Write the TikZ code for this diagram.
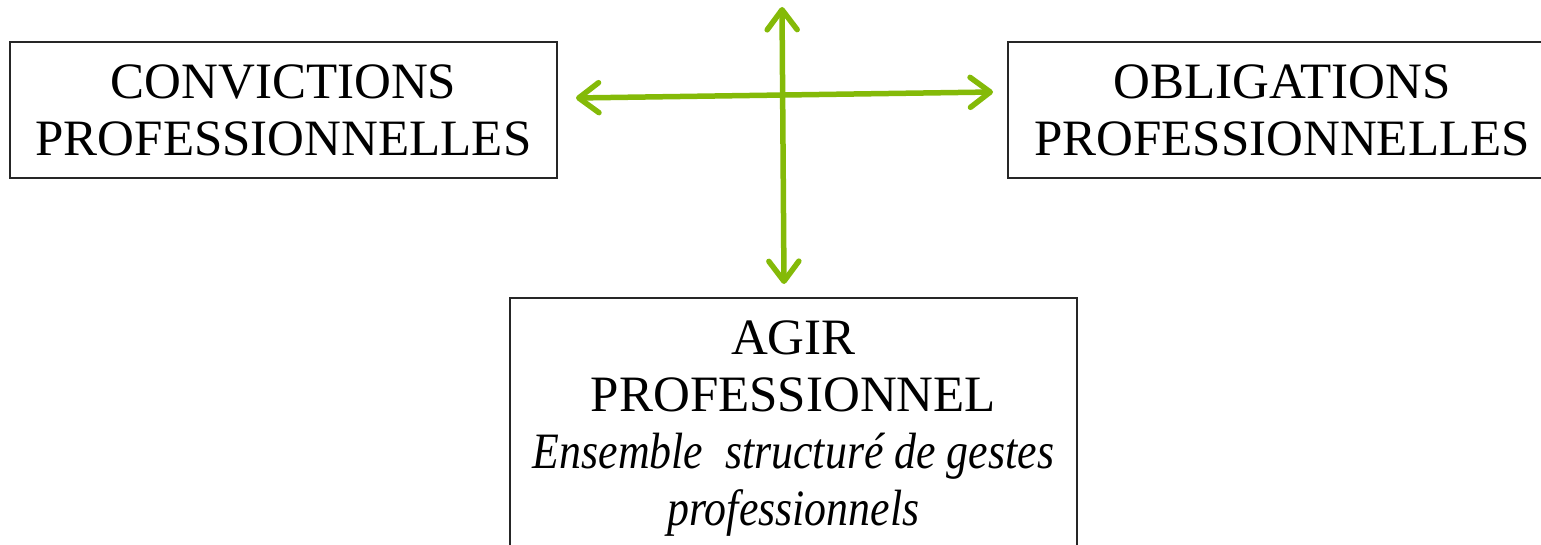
\documentclass[tikz,border=0pt]{standalone}
\usepackage{fontspec}
\setmainfont{Liberation Serif}
\newfontfamily\narrowserif{Liberation Serif}[FakeStretch=0.86]
\usetikzlibrary{arrows.meta}
\definecolor{arrowgreen}{RGB}{132,186,8}
\begin{document}
\begin{tikzpicture}[x=1pt,y=-1pt,
  box/.style={draw=black!85,line width=1.8pt,rectangle,inner sep=0pt,align=center,
    font=\fontsize{51}{57}\selectfont},
  link/.style={draw=arrowgreen,line width=5.5pt,
    {Straight Barb[length=20pt,width=30pt,round]}-{Straight Barb[length=20pt,width=30pt,round]}}]
\useasboundingbox (0,0) rectangle (1541,545);
\clip (0,0) rectangle (1541,545);
\node[box,minimum width=547pt,minimum height=136pt] (conv) at (283.5,110)
  {CONVICTIONS\\PROFESSIONNELLES};
\node[box,minimum width=548pt,minimum height=136pt] (oblig) at (1282,110)
  {OBLIGATIONS\\PROFESSIONNELLES};
\node[box,minimum width=567pt,minimum height=262pt] (agir) at (793.5,429)
  {AGIR\\PROFESSIONNEL\\\narrowserif\itshape Ensemble\ \ structuré de gestes\\\narrowserif\itshape professionnels};
\coordinate (vtop) at (782,7);
\coordinate (vbot) at (784,284);
\coordinate (hleft) at (576,98);
\coordinate (hright) at (993,92);
\draw[link] (vtop) -- (vbot);
\draw[link] (hleft) -- (hright);
\end{tikzpicture}
\end{document}
